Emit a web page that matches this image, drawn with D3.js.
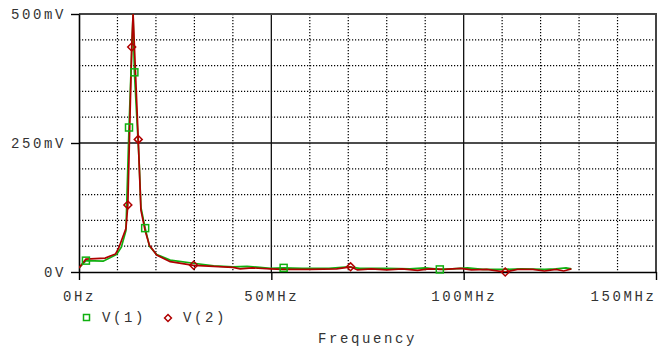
<!DOCTYPE html>
<html>
<head>
<meta charset="utf-8">
<script src="https://cdn.jsdelivr.net/npm/d3@7"></script>
<style>
  body { margin: 0; background: #fff; }
  svg text { font-family: "Liberation Mono", "DejaVu Sans Mono", monospace; fill: #333; }
</style>
</head>
<body>
<svg id="chart" width="668" height="348"></svg>
<script>
// frequency in MHz, voltage in mV
const freqV1 = [0, 1.8, 6.3, 9.8, 11.0, 12.2, 13.0, 14.06, 14.4, 15.6, 16.1, 17.2, 18.3, 20.2, 23.7, 29.8, 35, 40, 43.7, 47, 49.7, 53.2, 58, 65, 70, 73, 80, 86, 90, 93.8, 97, 99.2, 101, 105, 110, 115, 121, 124, 126.6, 128];
const valV1 = [8, 22, 21, 34, 48, 80, 280, 500, 387, 220, 125, 85, 50, 34, 23, 17, 12, 10, 11, 9, 7, 8, 7, 7, 10, 7, 7, 6, 8, 5, 6, 7, 8, 5, 5, 6, 5, 6, 8, 6];
const freqV2 = [0, 1.8, 6.8, 9.5, 10.3, 12.2, 12.7, 13.7, 14.06, 14.5, 15.4, 16.1, 17.2, 18.3, 20.2, 23.7, 29.8, 35, 40, 41.9, 45, 49.7, 53, 60, 67, 70.6, 72.4, 76, 80, 84, 88, 91, 95, 99.2, 102, 106, 110.8, 114, 118, 121, 124, 126, 128];
const valV2 = [8, 25, 27, 35, 46, 84, 130, 436, 500, 420, 257, 120, 80, 52, 33, 20, 13, 11, 9, 6, 8, 6, 5, 5, 6, 10, 4, 6, 4, 6, 3, 6, 5, 7, 4, 5, 0, 5, 5, 2, 5, 2, 6];
// points carrying a marker
const markV1 = [1.8, 13.0, 14.4, 17.2, 53.2, 93.8];
const markV2 = [12.7, 13.7, 15.4, 29.8, 70.6, 110.8];

const xTicks = [0, 50, 100, 150];
const xTickLabels = ["0Hz", "50MHz", "100MHz", "150MHz"];
const yTicks = [0, 250, 500];
const yTickLabels = ["0V", "250mV", "500mV"];
const seriesNames = ["V(1)", "V(2)"];

const green = "#10b010";
const red = "#b00000";

const svg = d3.select("#chart");
const pLeft = 79, pRight = 656, pTop = 14, pBottom = 272;

const x = d3.scaleLinear().domain([0, 150]).range([pLeft, pRight]);
const y = d3.scaleLinear().domain([0, 500]).range([pBottom, pTop]);

// dotted minor grid
const gx = d3.range(10, 150, 10).filter((d) => d % 50 !== 0);
const gy = d3.range(50, 500, 50).filter((d) => d % 250 !== 0);

svg.append("g")
  .selectAll("line")
  .data(gx)
  .join("line")
  .attr("x1", (d) => x(d)).attr("x2", (d) => x(d))
  .attr("y1", pTop).attr("y2", pBottom)
  .attr("stroke", "#000")
  .attr("stroke-width", 1.2)
  .attr("stroke-dasharray", "1.2,1.8");

svg.append("g")
  .selectAll("line")
  .data(gy)
  .join("line")
  .attr("x1", pLeft).attr("x2", pRight)
  .attr("y1", (d) => y(d)).attr("y2", (d) => y(d))
  .attr("stroke", "#000")
  .attr("stroke-width", 1.2)
  .attr("stroke-dasharray", "1.2,1.8");

// solid major grid
svg.append("g")
  .selectAll("line")
  .data([50, 100])
  .join("line")
  .attr("x1", (d) => x(d)).attr("x2", (d) => x(d))
  .attr("y1", pTop).attr("y2", pBottom)
  .attr("stroke", "#111")
  .attr("stroke-width", 1.3);

svg.append("line")
  .attr("x1", pLeft).attr("x2", pRight)
  .attr("y1", y(250)).attr("y2", y(250))
  .attr("stroke", "#111")
  .attr("stroke-width", 1.3);

// frame
svg.append("line")
  .attr("x1", pLeft).attr("x2", pRight + 1)
  .attr("y1", pTop).attr("y2", pTop)
  .attr("stroke", "#444").attr("stroke-width", 2);
svg.append("line")
  .attr("x1", pRight).attr("x2", pRight)
  .attr("y1", pTop).attr("y2", pBottom)
  .attr("stroke", "#444").attr("stroke-width", 2);

// axes
const xAxis = d3.axisBottom(x).tickValues(xTicks).tickSize(8).tickSizeOuter(0)
  .tickFormat((d, i) => xTickLabels[i]);
const yAxis = d3.axisLeft(y).tickValues(yTicks).tickSize(8).tickSizeOuter(0)
  .tickFormat((d, i) => yTickLabels[i]);

const gxa = svg.append("g").attr("transform", `translate(0,${pBottom})`).call(xAxis);
const gya = svg.append("g").attr("transform", `translate(${pLeft},0)`).call(yAxis);

[gxa, gya].forEach((g) => {
  g.select(".domain").attr("stroke", "#000").attr("stroke-width", 1.6);
  g.selectAll(".tick line").attr("stroke", "#000").attr("stroke-width", 1.4);
  g.selectAll(".tick text")
    .attr("fill", "#333")
    .style("font-family", "'Liberation Mono', monospace")
    .style("font-size", "14px")
    .style("letter-spacing", "2.6px");
});
gxa.selectAll(".tick text").attr("dy", "1.3em");
gxa.selectAll(".tick text").filter((d) => d === 150)
  .attr("text-anchor", "end").attr("dx", "0");
gya.selectAll(".tick text").attr("x", -13).attr("dy", "0.35em");

// curves
svg.append("clipPath").attr("id", "plotclip")
  .append("rect")
  .attr("x", pLeft).attr("y", pTop)
  .attr("width", pRight - pLeft).attr("height", pBottom - pTop);

const line = d3.line().x((d) => x(d[0])).y((d) => y(d[1]));
const ptsV1 = freqV1.map((f, i) => [f, valV1[i]]);
const ptsV2 = freqV2.map((f, i) => [f, valV2[i]]);

const plot = svg.append("g").attr("clip-path", "url(#plotclip)");

plot.append("path")
  .datum(ptsV1)
  .attr("d", line)
  .attr("fill", "none")
  .attr("stroke", green)
  .attr("stroke-width", 1.7);

plot.append("path")
  .datum(ptsV2)
  .attr("d", line)
  .attr("fill", "none")
  .attr("stroke", red)
  .attr("stroke-width", 1.7);

// markers
svg.append("g")
  .selectAll("rect")
  .data(ptsV1.filter((p) => markV1.includes(p[0])))
  .join("rect")
  .attr("x", (d) => x(d[0]) - 3.5)
  .attr("y", (d) => y(d[1]) - 3.5)
  .attr("width", 7).attr("height", 7)
  .attr("fill", "none")
  .attr("stroke", green)
  .attr("stroke-width", 1.5);

const diamond = d3.symbol().type(d3.symbolDiamond2).size(40);
svg.append("g")
  .selectAll("path")
  .data(ptsV2.filter((p) => markV2.includes(p[0])))
  .join("path")
  .attr("transform", (d) => `translate(${x(d[0])},${y(d[1])})`)
  .attr("d", diamond)
  .attr("fill", "none")
  .attr("stroke", red)
  .attr("stroke-width", 1.5);

// legend
const legend = svg.append("g");
legend.append("rect")
  .attr("x", 83.5).attr("y", 314.5)
  .attr("width", 6).attr("height", 6)
  .attr("fill", "none").attr("stroke", green).attr("stroke-width", 1.5);
legend.append("text")
  .attr("x", 102).attr("y", 322)
  .style("font-size", "14px").style("letter-spacing", "2.6px")
  .text(seriesNames[0]);
legend.append("path")
  .attr("transform", "translate(168,318)")
  .attr("d", d3.symbol().type(d3.symbolDiamond2).size(30))
  .attr("fill", "none").attr("stroke", red).attr("stroke-width", 1.5);
legend.append("text")
  .attr("x", 183).attr("y", 322)
  .style("font-size", "14px").style("letter-spacing", "2.6px")
  .text(seriesNames[1]);

svg.append("text")
  .attr("x", (pLeft + pRight) / 2)
  .attr("y", 343)
  .attr("text-anchor", "middle")
  .style("font-size", "14px")
  .style("letter-spacing", "2.6px")
  .text("Frequency");
</script>
</body>
</html>
